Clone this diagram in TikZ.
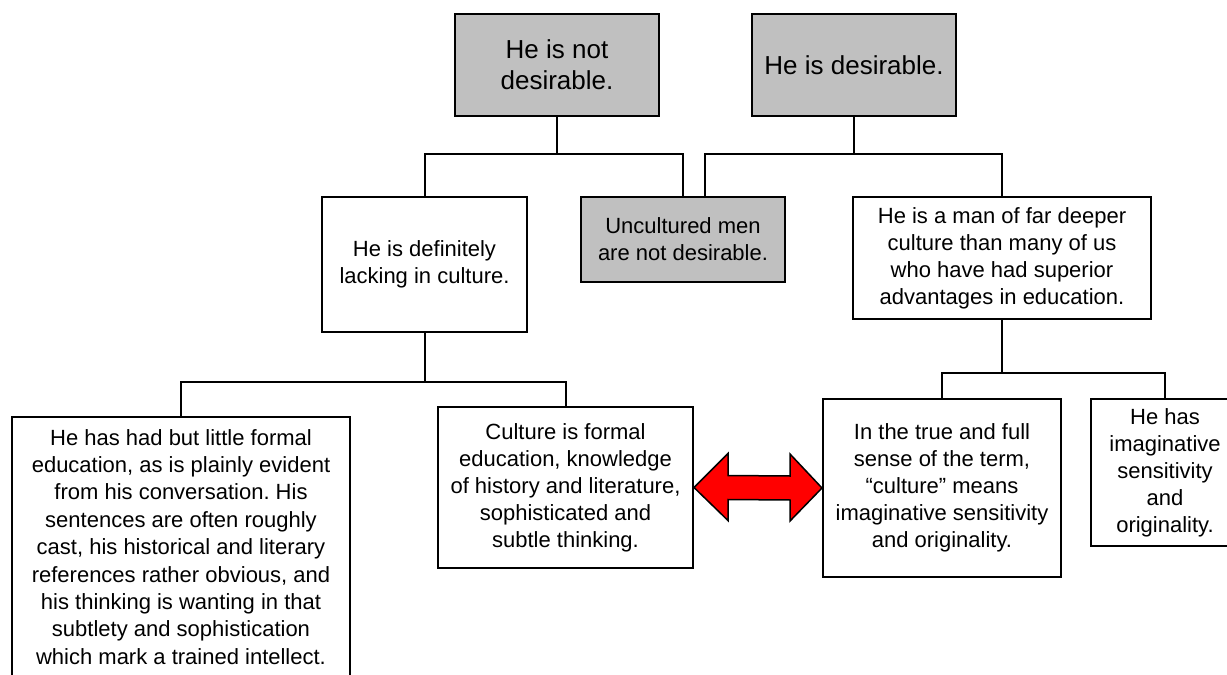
\documentclass[tikz,border=0pt]{standalone}
\usepackage{fontspec}
\setmainfont{Liberation Sans}
\usetikzlibrary{calc}
\definecolor{boxgray}{HTML}{C0C0C0}
\frenchspacing
\begin{document}
\begin{tikzpicture}[x=1bp,y=-1bp,
  box/.style={draw=black, line width=2bp, fill=white, align=center, inner sep=0pt,
    font=\fontsize{22bp}{27bp}\selectfont},
  topbox/.style={box, fill=boxgray, font=\fontsize{26bp}{31bp}\selectfont},
  graybox/.style={box, fill=boxgray},
  txt/.style={align=center, inner sep=0pt, font=\fontsize{22bp}{27.4bp}\selectfont},
  link/.style={draw=black, line width=2bp},
  bigarrow/.style={draw=black, line width=1.5bp, fill=red, line join=miter}]
\fill[white] (0,0) rectangle (1227,675);
\useasboundingbox (0,0) rectangle (1227,675);

\node[topbox, minimum width=204bp, minimum height=102bp] (na) at (557,65) {He is not\\desirable.};
\node[topbox, minimum width=204bp, minimum height=102bp] (nb) at (854,65) {He is desirable.};

\node[box, minimum width=205bp, minimum height=135bp] (lack) at (424.5,264.5) {He is definitely\\lacking in culture.};
\node[graybox, minimum width=204bp, minimum height=85bp] (unc) at (683,239.5) {Uncultured men\\are not desirable.};
\node[box, minimum width=298bp, minimum height=122bp] (deep) at (1002,258) {He is a man of far deeper\\culture than many of us\\who have had superior\\advantages in education.};

\node[box, anchor=north, minimum width=338bp, minimum height=300bp] (lft) at (181,416) {};
\node[txt, anchor=north] (lfttext) at ($(lft.north)+(0,13)$) {He has had but little formal\\education, as is plainly evident\\from his conversation. His\\sentences are often roughly\\cast, his historical and literary\\references rather obvious, and\\his thinking is wanting in that\\subtlety and sophistication\\which mark a trained intellect.};

\node[box, minimum width=255bp, minimum height=161bp] (mid) at (565.5,487.5) {Culture is formal\\education, knowledge\\of history and literature,\\sophisticated and\\subtle thinking.};
\node[box, minimum width=238bp, minimum height=178bp] (tru) at (942,488) {In the true and full\\sense of the term,\\``culture'' means\\imaginative sensitivity\\and originality.};
\node[box, minimum width=148bp, minimum height=147bp] (rt) at (1165,472.5) {He has\\imaginative\\sensitivity\\and\\originality.};

\coordinate (ja) at (na.south |- 0,154);
\coordinate (jb) at (nb.south |- 0,154);
\coordinate (jc) at (lack.south |- 0,382);
\coordinate (jd) at (deep.south |- 0,373);

\draw[link] (na.south) -- (ja) -| (lack.north);
\draw[link] (ja) -| (unc.north);
\draw[link] (nb.south) -- (jb) -| (deep.north);
\draw[link] (jb) -| ($(unc.north)+(22,0)$);
\draw[link] (lack.south) -- (jc) -| (lft.north);
\draw[link] (jc) -| (mid.north);
\draw[link] (deep.south) -- (jd) -| (tru.north);
\draw[link] (jd) -| (rt.north);

\draw[bigarrow] (mid.east) -- ($(mid.east)+(34,-34)$) -- ($(mid.east)+(34,-12)$)
  -- ($(tru.west)+(-32,-12)$) -- ($(tru.west)+(-32,-34)$) -- (tru.west)
  -- ($(tru.west)+(-32,33)$) -- ($(tru.west)+(-32,12)$)
  -- ($(mid.east)+(34,12)$) -- ($(mid.east)+(34,33)$) -- cycle;
\end{tikzpicture}
\end{document}
